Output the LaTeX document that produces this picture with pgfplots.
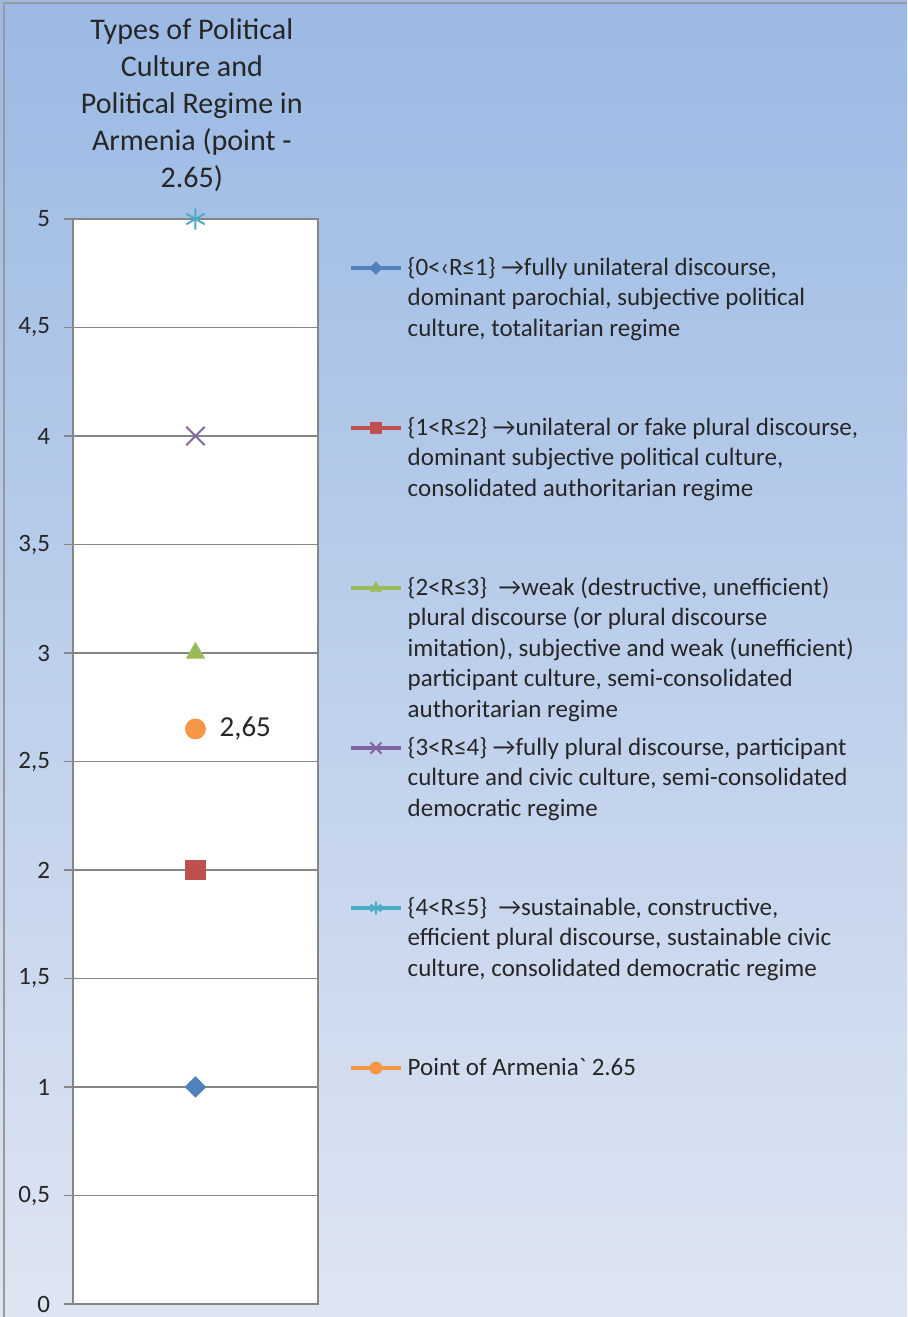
\documentclass[border=0pt]{standalone}
\usepackage{pgfplots}
\pgfplotsset{compat=1.18}
\usepackage{fontspec}
\setmainfont{Carlito}
\definecolor{bgtop}{RGB}{155,185,228}
\definecolor{bgbot}{RGB}{222,229,242}
\definecolor{sA}{HTML}{4F81BD}
\definecolor{sB}{HTML}{C0504D}
\definecolor{sC}{HTML}{9BBB59}
\definecolor{sD}{HTML}{8064A2}
\definecolor{sE}{HTML}{4BACC6}
\definecolor{sF}{HTML}{F79646}
\definecolor{gridc}{RGB}{134,134,134}
\definecolor{txt}{RGB}{38,38,38}
\newcommand{\legtxt}[1]{\raisebox{-3.6pt}[7pt][7pt]{\parbox[t]{245pt}{\fontsize{12.5}{15.25}\selectfont\raggedright #1}}}
\begin{document}
\begin{tikzpicture}
\shade[top color=bgtop, bottom color=bgbot] (0,0) rectangle (453.5pt,658.5pt);
\draw[gray!80, line width=0.8pt] (2pt,0) -- (2pt,657pt) -- (453.5pt,657pt);
\begin{axis}[
  at={(36.5pt,6.5pt)}, anchor=south west,
  scale only axis, width=122.5pt, height=542.5pt,
  xmin=0, xmax=2, ymin=0, ymax=5,
  xtick=\empty,
  ytick={0,0.5,1,1.5,2,2.5,3,3.5,4,4.5,5},
  ymajorgrids,
  major grid style={gridc, line width=0.6pt},
  axis line style={gridc, line width=0.6pt},
  tick style={gridc, line width=0.6pt},
  tick align=outside, ytick pos=left, major tick length=4.5pt,
  axis background/.style={fill=white},
  /pgf/number format/use comma,
  /pgf/number format/assume math mode=true,
  yticklabel style={font=\fontsize{12.5}{15}\selectfont, text=txt, xshift=-3.5pt},
  title={Types of Political\\Culture and\\Political Regime in\\Armenia (point -\\2.65)},
  title style={align=center, font=\fontsize{15}{18.5}\selectfont, text=txt, at={(0.485,1)}, anchor=south, yshift=4pt},
  legend image code/.code={\draw[mark repeat=2,mark phase=2,#1] plot coordinates {(0pt,0pt) (12.5pt,0pt) (25pt,0pt)};},
  every legend image post/.style={line width=1.8pt, every mark/.append style={scale=0.6}},
  legend style={at={(1.127,0.9677)}, anchor=north west, draw=none, fill=none, inner sep=0pt, outer sep=0pt,
    column sep=2.5pt, row sep=66pt, cells={anchor=base west}, nodes={inner sep=0pt, text=txt, text depth=, text height=}},
]
\addplot[sA, line width=2pt, mark=square*, mark size=3.6pt, mark options={rotate=45, line width=0.4pt}] coordinates {(1,1)};
\addlegendentry{\legtxt{\{0<‹R≤1\} →fully unilateral discourse,\\dominant parochial, subjective political\\culture, totalitarian regime}}
\addplot[sB, line width=2pt, mark=square*, mark size=4.8pt, mark options={line width=0.4pt}] coordinates {(1,2)};
\addlegendentry{\legtxt{\{1<R≤2\} →unilateral or fake plural discourse,\\dominant subjective political culture,\\consolidated authoritarian regime}}
\addplot[sC, line width=2pt, mark=triangle*, mark size=5.2pt, mark options={line width=0.4pt}] coordinates {(1,3)};
\addlegendentry{\legtxt{\{2<R≤3\}\ \ →weak (destructive, unefficient)\\plural discourse (or plural discourse\\imitation), subjective and weak (unefficient)\\participant culture, semi-consolidated\\authoritarian regime}}
\addplot[sD, line width=2pt, mark=x, mark size=6.5pt, mark options={line width=1pt}] coordinates {(1,4)};
\addlegendentry{\legtxt{\{3<R≤4\} →fully plural discourse, participant\\culture and civic culture, semi-consolidated\\democratic regime}}
\addplot[sE, line width=2pt, mark=asterisk, mark size=5.3pt, mark options={line width=1pt}] coordinates {(1,5)};
\addlegendentry{\legtxt{\{4<R≤5\}\ \ →sustainable, constructive,\\efficient plural discourse, sustainable civic\\culture, consolidated democratic regime}}
\addplot[sF, line width=2pt, mark=*, mark size=5pt, mark options={line width=0.4pt},
  nodes near coords={2,65},
  every node near coord/.style={anchor=west, xshift=8.5pt, text=txt, font=\fontsize{14.5}{16}\selectfont}] coordinates {(1,2.65)};
\addlegendentry{\legtxt{Point of Armenia\textasciigrave\ 2.65}}
\end{axis}
\pgfresetboundingbox
\path (0,0) rectangle (453.5pt,658.5pt);
\end{tikzpicture}
\end{document}
